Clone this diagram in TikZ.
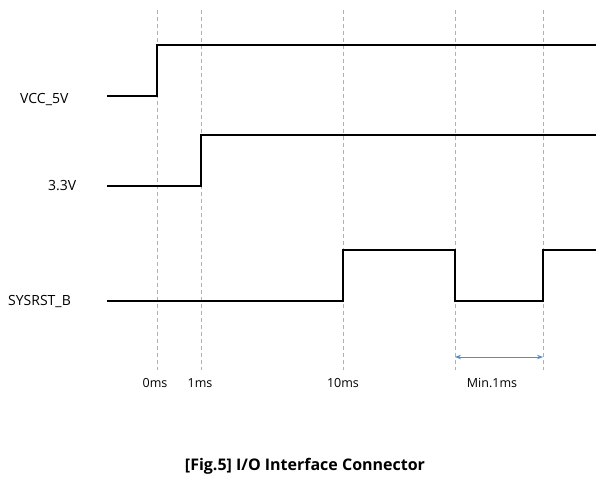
\documentclass[tikz,border=0pt]{standalone}
\usepackage{fontspec}
\setmainfont{Open Sans}
\usetikzlibrary{arrows.meta}
\definecolor{gd}{RGB}{150,220,30}
\definecolor{ar}{RGB}{80,140,210}
\begin{document}
\begin{tikzpicture}[x=1pt,y=-1pt,
  wave/.style={line width=1.8pt,line join=miter},
  guide/.style={draw=gd,dash pattern=on 4pt off 3pt,line width=1pt},
  lbl/.style={font=\fontsize{14}{16}\selectfont,inner sep=0pt},
  tm/.style={font=\fontsize{12.5}{14}\selectfont,inner sep=0pt}]
\useasboundingbox (0,0) rectangle (611,481);
\foreach \x in {157,201,343,455,543} \draw[guide] (\x,10) -- (\x,370);
\draw[wave] (107,96) -- (157,96) -- (157,45) -- (596,45);
\draw[wave] (107,186) -- (201,186) -- (201,135) -- (596,135);
\draw[wave] (107,301) -- (343,301) -- (343,250) -- (455,250) -- (455,301) -- (543,301) -- (543,250) -- (596,250);
\node[lbl,anchor=west] (v5) at (20,100) {VCC\_5V};
\node[lbl,anchor=west] (v33) at (48,186) {3.3V};
\node[lbl,anchor=west] (rst) at (8,302) {SYSRST\_B};
\node[tm] (t0) at (155,383) {0ms};
\node[tm] (t1) at (200,383) {1ms};
\node[tm] (t10) at (343,383) {10ms};
\node[tm] (tm1) at (492,383) {Min.1ms};
\coordinate (a1) at (455,357);
\coordinate (a2) at (543,357);
\draw[{Stealth[length=6pt]}-{Stealth[length=6pt]},draw=ar,line width=1pt] (a1) -- (a2);
\node[font=\fontsize{16}{18}\selectfont\bfseries] (cap) at (305,466) {[Fig.5] I/O Interface Connector};
\end{tikzpicture}
\end{document}
